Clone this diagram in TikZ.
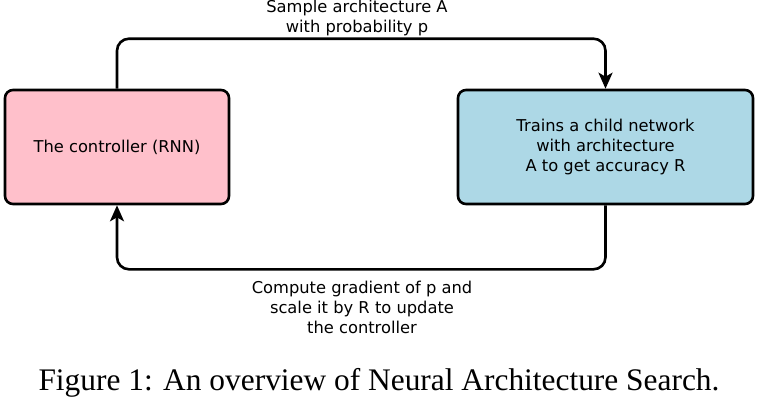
\documentclass[tikz,border=0pt]{standalone}
\usepackage{fontspec}
\setmainfont{Liberation Serif}
\newfontfamily\diagfont{DejaVu Sans}
\usepackage{tikz}
\usetikzlibrary{arrows.meta, positioning}
\definecolor{ctrlpink}{RGB}{255,192,203}
\definecolor{childblue}{RGB}{173,216,230}

\begin{document}
\begin{tikzpicture}[x=1pt, y=-1pt,
  box/.style={draw, line width=2.6pt, rounded corners=8pt, align=center,
              font=\diagfont\fontsize{16.3}{20}\selectfont, minimum height=114pt},
  lbl/.style={align=center, font=\diagfont\fontsize{16.3}{20}\selectfont},
  arr/.style={-{Stealth[length=16pt, width=14pt, inset=4pt]}, line width=2.6pt, rounded corners=12pt}
]
\useasboundingbox (0,0) rectangle (762,400);

\node[box, fill=ctrlpink, minimum width=224pt] (ctrl) at (117,147) {The controller (RNN)};
\node[box, fill=childblue, minimum width=295pt] (child) at (605.5,147)
  {Trains a child network\\with architecture\\A to get accuracy R};

\draw[arr] (ctrl.north) -- ++(0,-50) -| (child.north);
\draw[arr] (child.south) -- ++(0,64) -| (ctrl.south);

\node[lbl] (sample) at (357,18) {Sample architecture A\\with probability p};
\node[lbl] (update) at (362,307) {Compute gradient of p and\\scale it by R to update\\the controller};

\node[font=\fontsize{31.4}{36}\selectfont] (caption) at (379,383)
  {Figure 1: An overview of Neural Architecture Search.};
\end{tikzpicture}
\end{document}
